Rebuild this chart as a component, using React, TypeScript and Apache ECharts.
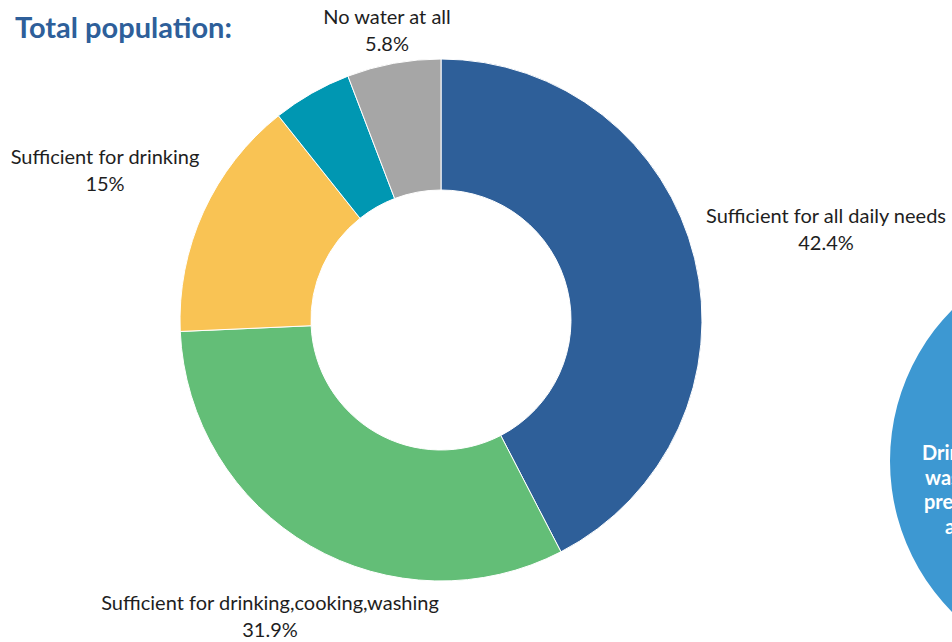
import React, { useEffect, useRef } from "react";
import * as echarts from "echarts";

const CATEGORIES = [
  "Sufficient for all daily needs",
  "Sufficient for drinking,cooking,washing",
  "Sufficient for drinking",
  "Sufficient for drinking,cooking",
  "No water at all",
];
const VALUES = [42.4, 31.9, 15, 4.9, 5.8];
const SHOW_LABEL = [true, true, true, false, true];
const COLORS = ["#2e5f99", "#63be77", "#f9c354", "#0097b2", "#a6a6a6"];
// label block centres (layout only)
const LABEL_POS: [number, number][] = [
  [826, 228],
  [270, 615],
  [105, 169],
  [0, 0],
  [387, 29],
];
const TITLE = "Total population:";
const SIDE_LINES = ["Drinking water", "was reported", "present in", "all areas"];
const SIDE_LINE_X = [922, 925, 924, 945];

export default function App() {
  const ref = useRef<HTMLDivElement>(null);
  useEffect(() => {
    if (!ref.current) return;
    const chart = echarts.init(ref.current, undefined, { renderer: "svg" });
    const font = "Lato, 'Noto Sans', sans-serif";
    chart.setOption({
      animation: false,
      backgroundColor: "#ffffff",
      graphic: [
        {
          type: "circle",
          shape: { cx: 1105, cy: 461, r: 215 },
          style: { fill: "#3d98d2" },
          z: 1,
        },
        ...SIDE_LINES.map((t, i) => ({
          type: "text",
          x: SIDE_LINE_X[i],
          y: 452 + i * 24.5,
          z: 2,
          style: {
            text: t,
            fill: "#ffffff",
            font: `bold 20px ${font}`,
            textAlign: "left",
            textVerticalAlign: "middle",
          },
        })),
        {
          type: "text",
          x: 15,
          y: 26,
          style: {
            text: TITLE,
            fill: "#2e5f9a",
            font: `bold 29px ${font}`,
            textAlign: "left",
            textVerticalAlign: "middle",
          },
        },
      ],
      series: [
        {
          type: "pie",
          center: [441, 320],
          radius: [130, 261],
          startAngle: 90,
          clockwise: true,
          avoidLabelOverlap: false,
          itemStyle: { borderColor: "#ffffff", borderWidth: 1 },
          label: {
            show: true,
            position: "outside",
            formatter: "{b}\n{c}%",
            color: "#1e1e1e",
            fontFamily: font,
            fontSize: 20,
            lineHeight: 27,
          },
          labelLine: { show: false },
          labelLayout: (p: any) => {
            const pos = LABEL_POS[p.dataIndex];
            return {
              x: pos[0],
              y: pos[1],
              align: "center",
              verticalAlign: "middle",
            };
          },
          emphasis: { disabled: true },
          data: CATEGORIES.map((name, i) => ({
            name,
            value: VALUES[i],
            itemStyle: { color: COLORS[i] },
            label: { show: SHOW_LABEL[i] },
          })),
        },
      ],
    });
    return () => chart.dispose();
  }, []);
  return (
    <div
      ref={ref}
      style={{ position: "fixed", left: 0, top: 0, width: 952, height: 642 }}
    />
  );
}
